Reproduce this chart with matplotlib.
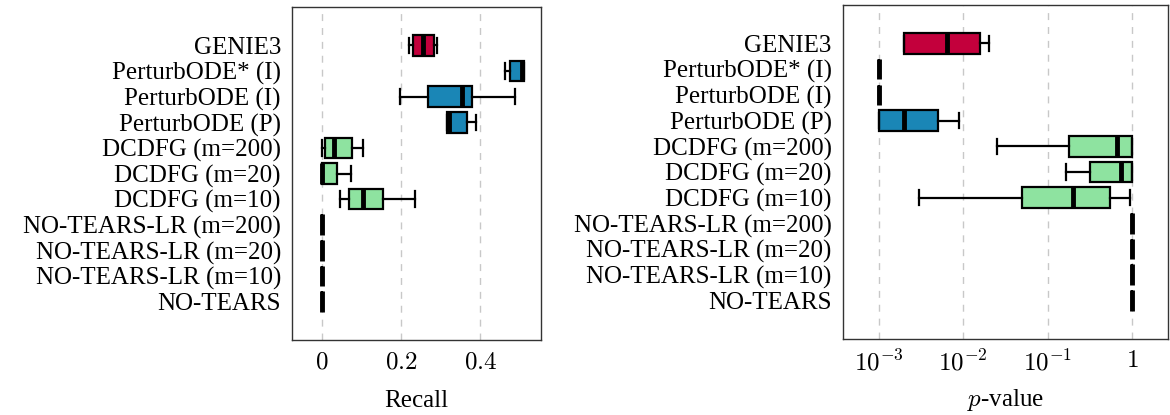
import matplotlib
matplotlib.use("Agg")
import matplotlib.pyplot as plt
import numpy as np

methods = ['GENIE3', 'PerturbODE* (I)', 'PerturbODE (I)', 'PerturbODE (P)',
           'DCDFG (m=200)', 'DCDFG (m=20)', 'DCDFG (m=10)',
           'NO-TEARS-LR (m=200)', 'NO-TEARS-LR (m=20)', 'NO-TEARS-LR (m=10)',
           'NO-TEARS']
groups = ['genie', 'ode', 'ode', 'ode', 'dcdfg', 'dcdfg', 'dcdfg',
          'nt', 'nt', 'nt', 'nt']
colors = {'genie': '#c3003c', 'ode': '#1a86b6', 'dcdfg': '#8ee3a0', 'nt': '#8ee3a0'}

# recall: whisker low, q1, median, q3, whisker high
rec_lo = [0.220, 0.463, 0.196, 0.317, 0.001, 0.0, 0.045, 0, 0, 0, 0]
rec_q1 = [0.231, 0.475, 0.268, 0.317, 0.007, 0.0, 0.067, 0, 0, 0, 0]
rec_med = [0.255, 0.506, 0.354, 0.322, 0.029, 0.0, 0.104, 0, 0, 0, 0]
rec_q3 = [0.282, 0.512, 0.379, 0.366, 0.075, 0.039, 0.155, 0, 0, 0, 0]
rec_hi = [0.292, 0.512, 0.487, 0.389, 0.103, 0.074, 0.236, 0, 0, 0, 0]

# p-value
p_lo = [0.00199, 0.001, 0.001, 0.001, 0.0249, 0.163, 0.00299, 1, 1, 1, 1]
p_q1 = [0.00199, 0.001, 0.001, 0.001, 0.178, 0.318, 0.049, 1, 1, 1, 1]
p_med = [0.00649, 0.001, 0.001, 0.00200, 0.649, 0.736, 0.200, 1, 1, 1, 1]
p_q3 = [0.0156, 0.001, 0.001, 0.00499, 0.99, 1.0, 0.536, 1, 1, 1, 1]
p_hi = [0.0200, 0.001, 0.001, 0.00897, 1.0, 1.0, 0.946, 1, 1, 1, 1]

plt.rcParams['font.family'] = ['Liberation Serif', 'DejaVu Serif']
plt.rcParams['mathtext.fontset'] = 'cm'

fig = plt.figure(figsize=(11.7, 4.15), dpi=100)
ax1 = fig.add_axes([0.2496, 0.1807, 0.2128, 0.8024])
ax2 = fig.add_axes([0.7205, 0.1831, 0.2778, 0.8050])


def draw(ax, lo, q1, med, q3, hi):
    stats = []
    for i in range(len(methods)):
        stats.append(dict(whislo=lo[i], q1=q1[i], med=med[i], q3=q3[i],
                          whishi=hi[i], fliers=[], label=methods[i]))
    bp = ax.bxp(stats, positions=np.arange(len(methods)), widths=0.8,
                capwidths=0.6, orientation='horizontal', patch_artist=True,
                showfliers=False,
                boxprops=dict(edgecolor='black', linewidth=1.6),
                medianprops=dict(color='black', linewidth=3.5),
                whiskerprops=dict(color='black', linewidth=1.6),
                capprops=dict(color='black', linewidth=1.6))
    for patch, g in zip(bp['boxes'], groups):
        patch.set_facecolor(colors[g])
    ax.set_ylim(11.5, -1.5)
    ax.tick_params(axis='both', length=0)
    ax.tick_params(axis='y', labelsize=18, pad=8)
    ax.tick_params(axis='x', labelsize=18, pad=8)
    ax.grid(True, axis='x', linestyle=(0, (5, 5)), color='#c8c8c8', linewidth=1)
    ax.set_axisbelow(True)
    for s in ax.spines.values():
        s.set_color('#333333')
        s.set_linewidth(1)


draw(ax1, rec_lo, rec_q1, rec_med, rec_q3, rec_hi)
ax1.set_xlim(-0.076, 0.554)
ax1.set_xticks([0, 0.2, 0.4])
ax1.set_xticklabels([r'$0$', r'$0.2$', r'$0.4$'])
ax1.set_xlabel('Recall', fontsize=18, labelpad=12)

draw(ax2, p_lo, p_q1, p_med, p_q3, p_hi)
ax2.set_xscale('log')
ax2.set_xlim(10 ** -3.42, 10 ** 0.42)
ax2.set_xticks([1e-3, 1e-2, 1e-1, 1])
ax2.set_xticklabels([r'$10^{-3}$', r'$10^{-2}$', r'$10^{-1}$', r'$1$'])
ax2.minorticks_off()
ax2.set_xlabel(r'$p$-value', fontsize=18, labelpad=8)

fig.savefig('out.png', dpi=100)
